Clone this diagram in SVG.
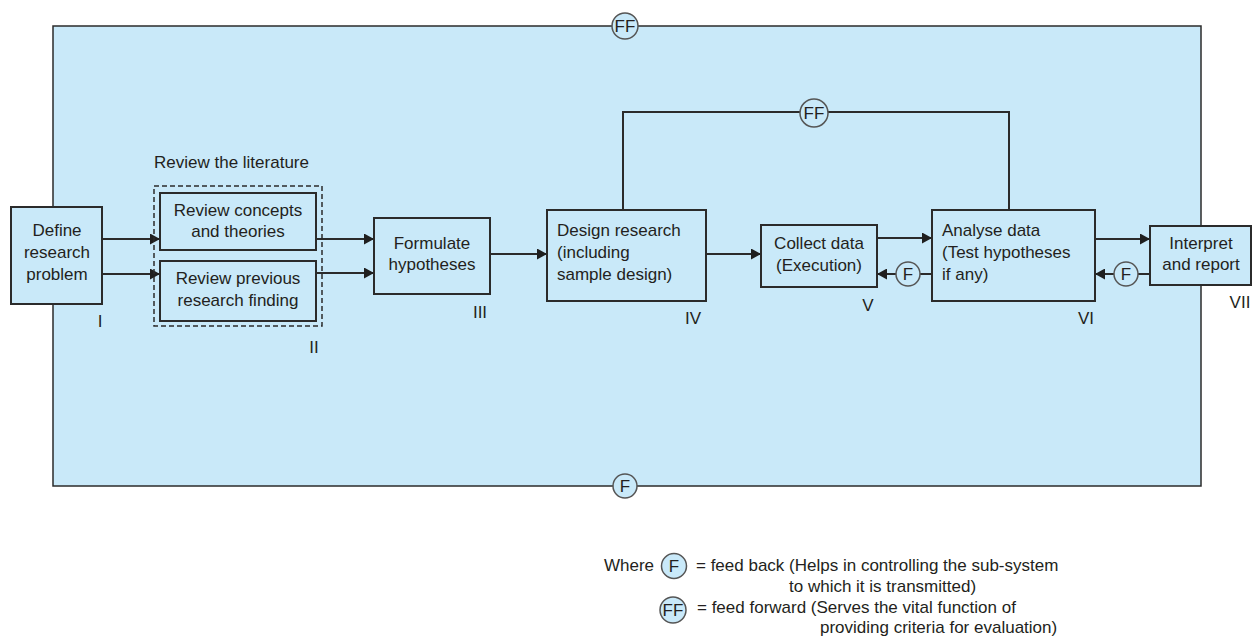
<svg xmlns="http://www.w3.org/2000/svg" width="1253" height="638" viewBox="0 0 1253 638">
<style>
text{font-family:"Liberation Sans",Arial,sans-serif;font-size:17px;fill:#231f20}
.c{text-anchor:middle}
.box{fill:#c9e9f9;stroke:#2b2b2b;stroke-width:2}
.ln{fill:none;stroke:#2b2b2b;stroke-width:2}
.cir{fill:#c9e9f9;stroke:#555;stroke-width:1.5}
</style>
<defs>
<marker id="ah" viewBox="0 0 10 11" refX="10" refY="5.5" markerWidth="10" markerHeight="11" markerUnits="userSpaceOnUse" orient="auto">
<path d="M0,0 L10,5.5 L0,11 z" fill="#1f1f1f"/>
</marker>
</defs>
<rect x="0" y="0" width="1253" height="638" fill="#ffffff"/>
<g id="frame">
<rect x="53" y="26" width="1148" height="460" fill="#c9e9f9" stroke="#2b2b2b" stroke-width="1.5"/>
</g>
<g id="connectors">
<line class="ln" x1="102" y1="239" x2="160" y2="239" marker-end="url(#ah)"/>
<line class="ln" x1="102" y1="274" x2="160" y2="274" marker-end="url(#ah)"/>
<line class="ln" x1="316" y1="239" x2="374" y2="239" marker-end="url(#ah)"/>
<line class="ln" x1="316" y1="273" x2="374" y2="273" marker-end="url(#ah)"/>
<line class="ln" x1="490" y1="254" x2="547" y2="254" marker-end="url(#ah)"/>
<line class="ln" x1="706" y1="254" x2="761" y2="254" marker-end="url(#ah)"/>
<line class="ln" x1="877" y1="238" x2="932" y2="238" marker-end="url(#ah)"/>
<line class="ln" x1="1095" y1="239" x2="1150" y2="239" marker-end="url(#ah)"/>
<path class="ln" d="M623,210 V112 H1009 V210"/>
<line class="ln" x1="932" y1="274" x2="908" y2="274"/>
<line class="ln" x1="896" y1="274" x2="877" y2="274" marker-end="url(#ah)"/>
<line class="ln" x1="1150" y1="274" x2="1126" y2="274"/>
<line class="ln" x1="1114" y1="274" x2="1095" y2="274" marker-end="url(#ah)"/>
</g>
<g id="ff-top">
<circle class="cir" cx="625" cy="26" r="13"/>
<text class="c" x="625" y="32">FF</text>
</g>
<g id="f-bottom">
<circle class="cir" cx="625" cy="486" r="12"/>
<text class="c" x="625" y="492">F</text>
</g>
<g id="ff-mid">
<circle class="cir" cx="814" cy="113" r="14"/>
<text class="c" x="814" y="119">FF</text>
</g>
<g id="f-v">
<circle class="cir" cx="908" cy="274" r="12"/>
<text class="c" x="908" y="280">F</text>
</g>
<g id="f-vi">
<circle class="cir" cx="1126" cy="274" r="12"/>
<text class="c" x="1126" y="280">F</text>
</g>
<g id="node-I">
<rect class="box" x="11" y="207" width="91" height="97"/>
<text class="c" x="57" y="236">Define</text>
<text class="c" x="57" y="258">research</text>
<text class="c" x="57" y="280">problem</text>
<text class="c" x="100" y="327">I</text>
</g>
<g id="node-II">
<text x="154" y="168">Review the literature</text>
<rect x="154" y="186" width="168" height="140" fill="none" stroke="#2b2b2b" stroke-width="1.5" stroke-dasharray="5,3"/>
<rect class="box" x="160" y="193" width="156" height="57"/>
<text class="c" x="238" y="216">Review concepts</text>
<text class="c" x="238" y="237">and theories</text>
<rect class="box" x="160" y="261" width="156" height="60"/>
<text class="c" x="238" y="284">Review previous</text>
<text class="c" x="238" y="306">research finding</text>
<text class="c" x="314" y="353">II</text>
</g>
<g id="node-III">
<rect class="box" x="374" y="218" width="116" height="76"/>
<text class="c" x="432" y="249">Formulate</text>
<text class="c" x="432" y="270">hypotheses</text>
<text class="c" x="480" y="318">III</text>
</g>
<g id="node-IV">
<rect class="box" x="547" y="210" width="159" height="91"/>
<text x="557" y="236">Design research</text>
<text x="557" y="258">(including</text>
<text x="557" y="280">sample design)</text>
<text class="c" x="693" y="324">IV</text>
</g>
<g id="node-V">
<rect class="box" x="761" y="225" width="116" height="62"/>
<text class="c" x="819" y="249">Collect data</text>
<text class="c" x="819" y="271">(Execution)</text>
<text class="c" x="868" y="311">V</text>
</g>
<g id="node-VI">
<rect class="box" x="932" y="210" width="163" height="91"/>
<text x="942" y="236">Analyse data</text>
<text x="942" y="258">(Test hypotheses</text>
<text x="942" y="280">if any)</text>
<text class="c" x="1086" y="324">VI</text>
</g>
<g id="node-VII">
<rect class="box" x="1150" y="226" width="101" height="59"/>
<text class="c" x="1201" y="249">Interpret</text>
<text class="c" x="1201" y="270">and report</text>
<text class="c" x="1240" y="308">VII</text>
</g>
<g id="legend">
<text x="604" y="571">Where</text>
<circle class="cir" cx="674" cy="566" r="12.5"/>
<text class="c" x="674" y="572">F</text>
<text x="696" y="571">= feed back (Helps in controlling the sub-system</text>
<text x="789" y="592">to which it is transmitted)</text>
<circle class="cir" cx="673" cy="610" r="13"/>
<text class="c" x="673" y="616">FF</text>
<text x="697" y="613">= feed forward (Serves the vital function of</text>
<text x="820" y="633">providing criteria for evaluation)</text>
</g>
</svg>
